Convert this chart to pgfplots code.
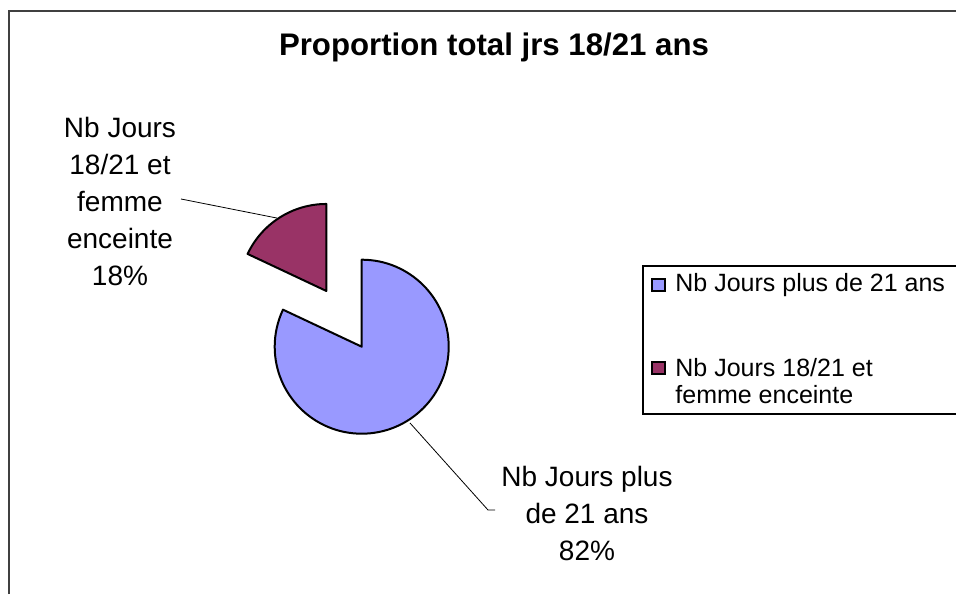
\documentclass[border=0pt]{standalone}
\usepackage{fontspec}
\setmainfont{Liberation Sans}
\usepackage{pgfplots}
\usepackage{pgfplotstable}
\pgfplotsset{compat=1.18}

\definecolor{plusc}{HTML}{9999FF}
\definecolor{femmec}{HTML}{993366}
\definecolor{framec}{HTML}{404040}

% share of days per group
\pgfplotstableread{
label value
plus 82
femme 18
}\piedata

\begin{document}
\begin{tikzpicture}
\useasboundingbox (0,0) rectangle (478pt,297pt);
\pgfplotstablegetelem{0}{value}\of\piedata \let\va\pgfplotsretval
\pgfplotstablegetelem{1}{value}\of\piedata \let\vb\pgfplotsretval
\pgfmathsetmacro\aend{90-\va/(\va+\vb)*360}
\pgfmathsetmacro\amid{(\aend-270)/2}
\begin{axis}[
    at={(0,0)}, anchor=origin,
    scale only axis,
    width=478pt, height=297pt,
    xmin=0, xmax=956, ymin=0, ymax=594,
    axis lines=none,
    ticks=none,
]
% chart frame (left and top edges visible)
\draw[framec, line width=1pt] (axis cs:8.5,0) -- (axis cs:8.5,583) -- (axis cs:960,583);

\node[anchor=base, font=\fontsize{15.6}{19}\selectfont\bfseries] at (axis cs:494,538) {Proportion total jrs 18/21 ans};

% 82 % slice
\filldraw[fill=plusc, draw=black, line width=1pt, line join=round]
  (axis cs:361.7,247.3) -- ++(90:43.5pt) arc[start angle=90, end angle=\aend, radius=43.5pt] -- cycle;
% 18 % slice, pulled out
\filldraw[fill=femmec, draw=black, line width=1pt, line join=round]
  ([shift={(\amid:33pt)}]axis cs:361.7,247.3) -- ++(\aend:43.5pt) arc[start angle=\aend, end angle=-270, radius=43.5pt] -- cycle;

% leader lines
\draw[black, line width=0.4pt] (axis cs:181,395) -- (axis cs:276.7,376);
\draw[black, line width=0.4pt] (axis cs:410,171) -- (axis cs:488,84) -- (axis cs:495,84);

% data labels
\node[align=center, font=\fontsize{14}{18.5}\selectfont] at (axis cs:120,393)
  {Nb Jours\\18/21 et\\femme\\enceinte\\18\%};
\node[align=center, font=\fontsize{14}{18.5}\selectfont] at (axis cs:587,81)
  {Nb Jours plus\\de 21 ans\\82\%};

% legend
\draw[black, line width=0.6pt] (axis cs:960,328) -- (axis cs:643,328) -- (axis cs:643,180) -- (axis cs:960,180);
\filldraw[fill=plusc, draw=black, line width=0.8pt] (axis cs:652,303) rectangle (axis cs:665,315);
\filldraw[fill=femmec, draw=black, line width=0.8pt] (axis cs:652,220) rectangle (axis cs:665,232);
\node[anchor=west, font=\fontsize{12.5}{13.5}\selectfont, inner sep=0pt] at (axis cs:675,309) {Nb Jours plus de 21 ans};
\node[anchor=west, align=left, font=\fontsize{12.5}{13.5}\selectfont, inner sep=0pt] at (axis cs:675,212.5) {Nb Jours 18/21 et\\femme enceinte};
\end{axis}
\end{tikzpicture}
\end{document}
